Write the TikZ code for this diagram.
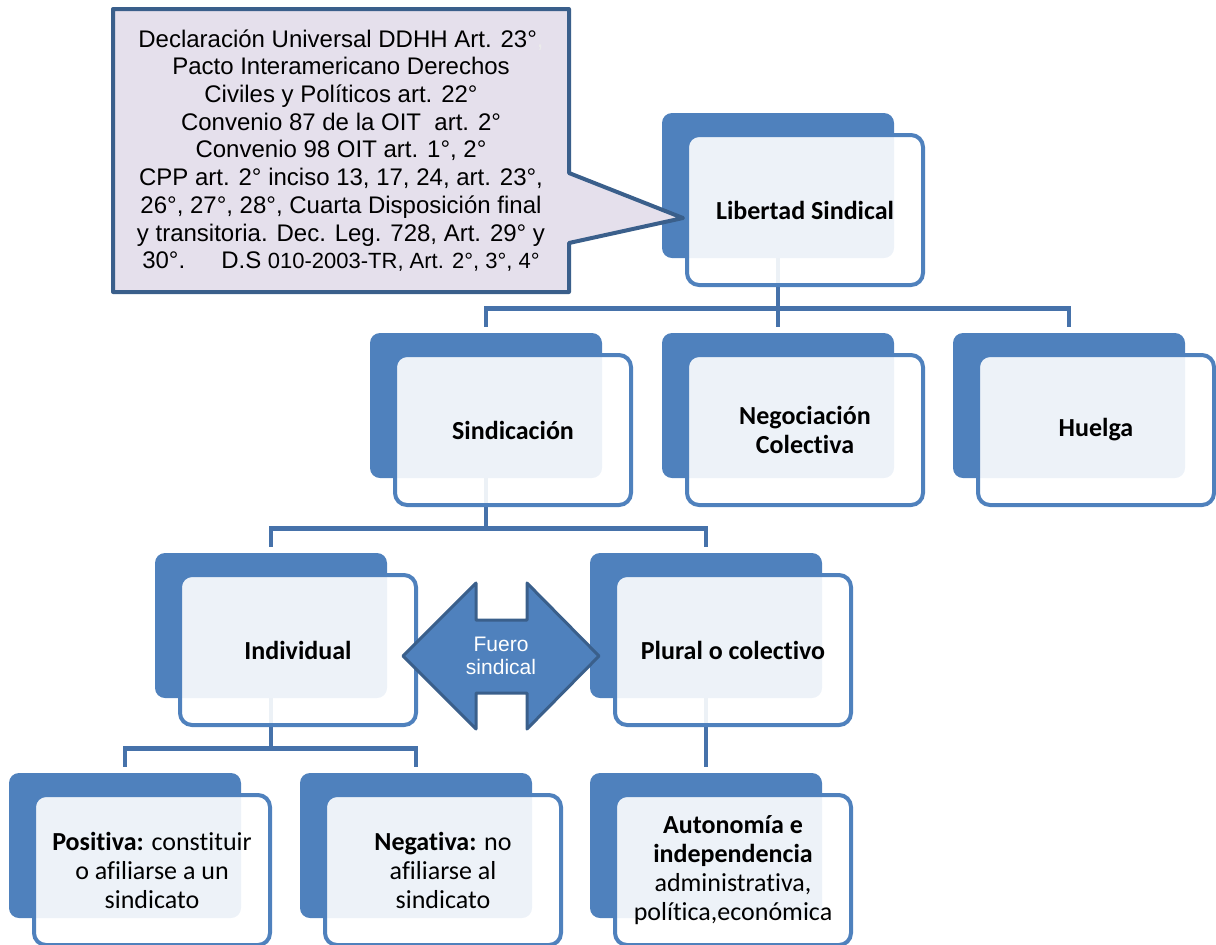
\documentclass[tikz,border=0pt]{standalone}
\usepackage{fontspec}
\setmainfont{Liberation Sans}
\newfontfamily\calibri[Ligatures=NoCommon]{Carlito}
\definecolor{azul}{HTML}{4F81BD}
\definecolor{azulosc}{HTML}{3A5F8B}
\definecolor{linea}{HTML}{4672AA}
\definecolor{lila}{HTML}{E5E0EC}
\tikzset{
  fondo/.style={fill=azul, rounded corners=5pt, minimum width=116pt,
                minimum height=72.5pt, inner sep=0pt},
  tarj/.style={draw=azul, line width=2pt, fill=white, fill opacity=0.9, text opacity=1,
               rounded corners=6pt, minimum width=118pt, minimum height=75pt,
               align=center, font=\calibri\fontsize{13}{14.5}\selectfont},
  tarjb/.style={tarj, font=\calibri\bfseries\fontsize{13}{14.5}\selectfont},
  conn/.style={draw=linea, line width=2.25pt, shorten >=3pt},
  globo/.style={fill=lila, draw=azulosc, line width=2pt, line join=round},
  flecha/.style={fill=azul, draw=azulosc, line width=1.5pt, line join=round},
  fuero/.style={text=white, align=center, font=\fontsize{10.5}{11.5}\selectfont},
  cita/.style={align=center, font=\fontsize{12}{13.85}\selectfont},
}

\begin{document}
\begin{tikzpicture}[x=0.5pt, y=-0.5pt]
  \useasboundingbox (0,0) rectangle (1216,944);
  \clip (0,0) rectangle (1216,944);
  % fondos azules
  \node[fondo] (lib) at (778,185.5) {};
  \node[fondo] (sind) at (486,405.5) {};
  \node[fondo] (neg) at (778,405.5) {};
  \node[fondo] (hue) at (1069,405.5) {};
  \node[fondo] (ind) at (271,625.5) {};
  \node[fondo] (plu) at (706,625.5) {};
  \node[fondo] (pos) at (125,845.5) {};
  \node[fondo] (nega) at (416,845.5) {};
  \node[fondo] (aut) at (706,845.5) {};
  % conectores
  \draw[conn] (lib.south) -- ++(0,50) -| (sind.north);
  \draw[conn] (lib.south) -- (neg.north);
  \draw[conn] (lib.south) -- ++(0,50) -| (hue.north);
  \draw[conn] (sind.south) -- ++(0,50) -| (ind.north);
  \draw[conn] (sind.south) -- ++(0,50) -| (plu.north);
  \draw[conn] (ind.south) -- ++(0,50) -| (pos.north);
  \draw[conn] (ind.south) -- ++(0,50) -| (nega.north);
  \draw[conn] (plu.south) -- (aut.north);
  % tarjetas
  \node[tarjb] (libT) at ([shift={(27,24.5)}]lib.center) {Libertad Sindical};
  \node[tarjb] (sindT) at ([shift={(27,24.5)}]sind.center) {Sindicación};
  \node[tarjb] (negT) at ([shift={(27,24.5)}]neg.center) {Negociación\\Colectiva};
  \node[tarjb] (hueT) at ([shift={(27,24.5)}]hue.center) {Huelga};
  \node[tarjb] (indT) at ([shift={(27,24.5)}]ind.center) {Individual};
  \node[tarjb] (pluT) at ([shift={(27,24.5)}]plu.center) {Plural o colectivo};
  \node[tarj] (posT) at ([shift={(27,24.5)}]pos.center)
    {\textbf{Positiva:} constituir\\o afiliarse a un\\sindicato};
  \node[tarj] (negaT) at ([shift={(27,24.5)}]nega.center)
    {\textbf{Negativa:} no\\afiliarse al\\sindicato};
  \node[tarj] (autT) at ([shift={(27,24.5)}]aut.center)
    {\textbf{Autonomía e}\\\textbf{independencia}\\administrativa,\\política,económica};
  % fuero sindical
  \draw[flecha] (403,656) -- (476,583) -- (476,620) -- (527,620) -- (527,583)
    -- (599,656) -- (527,729) -- (527,693) -- (476,693) -- (476,729) -- cycle;
  \node[fuero] (fue) at (501,656) {Fuero\\sindical};
  % globo de normas
  \draw[globo] (113,9) -- (569,9) -- (569,173) -- (683,218) -- (569,243)
    -- (569,292) -- (113,292) -- cycle;
  \node[cita] (normas) at (341,150.5)
    {Declaración Universal DDHH Art. 23°{\color{black!8},}\\
     Pacto Interamericano Derechos\\
     Civiles y Políticos art. 22°\\
     Convenio 87 de la OIT\ \ art. 2°\\
     Convenio 98 OIT art. 1°, 2°\\
     CPP art. 2° inciso 13, 17, 24, art. 23°,\\
     26°, 27°, 28°, Cuarta Disposición final\\
     y transitoria. Dec. Leg. 728, Art. 29° y\\
     30°.\hspace{18pt}D.S {\fontsize{11}{13.85}\selectfont 010-2003-TR, Art. 2°, 3°, 4°}};
\end{tikzpicture}
\end{document}
